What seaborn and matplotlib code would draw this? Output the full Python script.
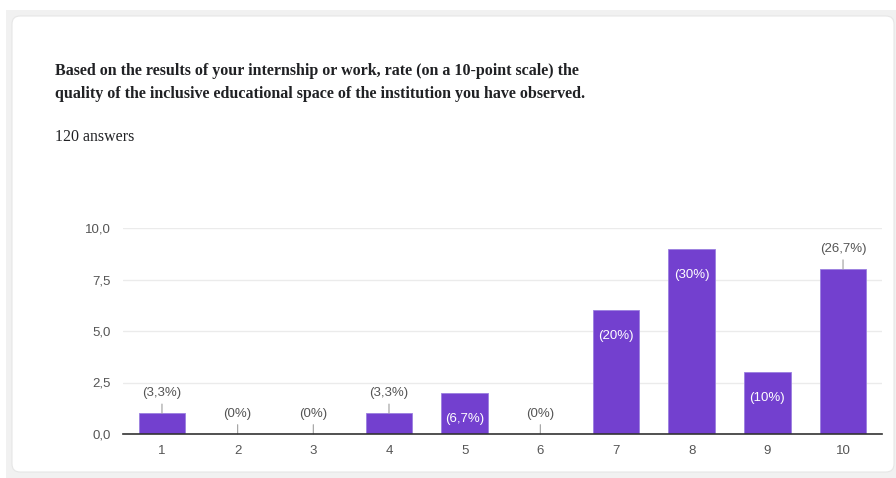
import matplotlib
matplotlib.use("Agg")
import matplotlib.pyplot as plt
import seaborn as sns
import pandas as pd
from matplotlib.patches import FancyBboxPatch, Rectangle

# ---- data ----
categories = ["1", "2", "3", "4", "5", "6", "7", "8", "9", "10"]
counts = [1, 0, 0, 1, 2, 0, 6, 9, 3, 8]
pct_labels = ["(3,3%)", "(0%)", "(0%)", "(3,3%)", "(6,7%)", "(0%)",
              "(20%)", "(30%)", "(10%)", "(26,7%)"]
label_inside = [False, False, False, False, True, False, True, True, True, False]
y_ticks = [0, 2.5, 5, 7.5, 10]
y_tick_labels = ["0,0", "2,5", "5,0", "7,5", "10,0"]
title_lines = ["Based on the results of your internship or work, rate (on a 10-point scale) the",
               "quality of the inclusive educational space of the institution you have observed."]
subtitle = "120 answers"

BAR = "#7340cf"
W, H = 896, 478
DPI = 100
LBL = 9.5

sns.set_theme(style="white")
plt.rcParams["font.family"] = ["Liberation Sans", "DejaVu Sans"]

fig = plt.figure(figsize=(W / DPI, H / DPI), dpi=DPI, facecolor="white")

# background panel and white card (pixel coordinates, origin bottom-left)
fig.patches.append(Rectangle((6, 0), W - 6, H - 10, transform=None,
                             facecolor="#f1f1f1", edgecolor="none", zorder=-3))
fig.patches.append(FancyBboxPatch((12, 6), W - 2 - 12, H - 16 - 6,
                                  boxstyle="round,pad=0,rounding_size=8",
                                  transform=None, facecolor="white",
                                  edgecolor="#e6e6e6", lw=0.8, zorder=-2))

fig.text(55 / W, 1 - 71 / H, title_lines[0], family="Liberation Serif",
         fontweight="bold", fontsize=11.5, va="center", ha="left", color="#202124")
fig.text(55 / W, 1 - 94 / H, title_lines[1], family="Liberation Serif",
         fontweight="bold", fontsize=11.5, va="center", ha="left", color="#202124")
fig.text(55 / W, 1 - 137 / H, subtitle, family="Liberation Serif",
         fontsize=11.4, va="center", ha="left", color="#202124")

ax = fig.add_axes([123 / W, 1 - 434 / H, (882 - 123) / W, (434 - 228) / H])
ax.set_facecolor("white")

df = pd.DataFrame({"rating": categories, "count": counts})
sns.barplot(data=df, x="rating", y="count", order=categories, color=BAR,
            saturation=1, width=0.62, edgecolor="#9b7fe0", linewidth=0.6, ax=ax)

ax.set_ylim(0, 10)
ax.set_xlim(-0.515, len(categories) - 0.485)
ax.set_yticks(y_ticks)
ax.set_yticklabels(y_tick_labels)
ax.set_xlabel("")
ax.set_ylabel("")
ax.grid(axis="y", color="#ebebeb", lw=1)
ax.set_axisbelow(True)
for s in ["top", "right", "left"]:
    ax.spines[s].set_visible(False)
ax.spines["bottom"].set_color("#333333")
ax.spines["bottom"].set_linewidth(1.2)
ax.spines["bottom"].set_zorder(5)
ax.tick_params(axis="both", length=0, labelsize=LBL, labelcolor="#555555")
ax.tick_params(axis="y", pad=9)
ax.tick_params(axis="x", pad=8)

for i, (v, lab, inside) in enumerate(zip(counts, pct_labels, label_inside)):
    if inside:
        ax.annotate(lab, xy=(i, v), xytext=(0, -26 * 72 / DPI),
                    textcoords="offset points", ha="center", va="center",
                    fontsize=LBL, color="white")
    else:
        ax.annotate(lab, xy=(i, v), xytext=(0, 20 * 72 / DPI),
                    textcoords="offset points", ha="center", va="center",
                    fontsize=LBL, color="#555555",
                    arrowprops=dict(arrowstyle="-", color="#9e9e9e", lw=0.8,
                                    shrinkA=1, shrinkB=0))

fig.savefig("out.png", dpi=DPI, facecolor=fig.get_facecolor())
